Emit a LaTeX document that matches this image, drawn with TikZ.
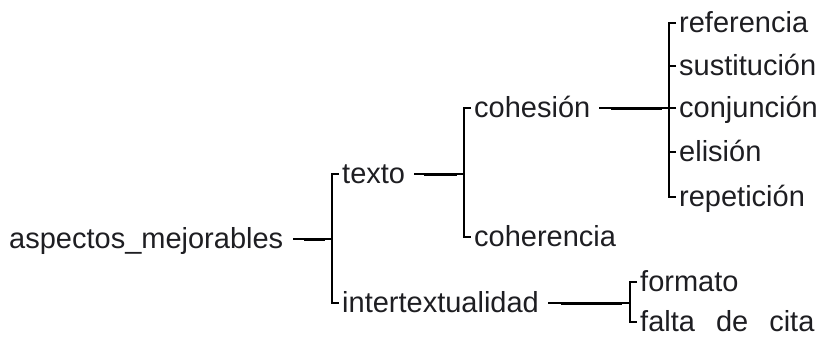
\documentclass[tikz,border=0pt]{standalone}
\usepackage{fontspec}
\setmainfont{Liberation Sans}
\definecolor{txt}{RGB}{30,30,34}
\begin{document}
\begin{tikzpicture}[x=1pt,y=-1pt,
  lbl/.style={font=\fontsize{29}{34}\selectfont, text=txt, inner xsep=3pt, inner ysep=0pt,
              text height=24pt, text depth=6pt, anchor=west},
  ln/.style={line width=1.2pt, draw=black},
  thk/.style={line width=3pt, draw=black}]
\useasboundingbox (0,0) rectangle (817,338);
% nodes
\node[lbl] (am)  at (6,239)   {aspectos\_mejorables};
\node[lbl] (tx)  at (339,174) {texto};
\node[lbl] (it)  at (339,303) {intertextualidad};
\node[lbl] (coh) at (471,108) {cohesión};
\node[lbl] (cor) at (471,237) {coherencia};
\node[lbl] (ref) at (676,23)  {referencia};
\node[lbl] (sus) at (676,66)  {sustitución};
\node[lbl] (con) at (676,108) {conjunción};
\node[lbl] (eli) at (676,152) {elisión};
\node[lbl] (rep) at (676,197) {repetición};
\node[lbl] (fmt) at (637,282) {formato};
\node[lbl] (fal) at (637,322) {falta\hspace{21pt}de\hspace{21pt}cita};
% junctions
\coordinate (j1) at (332,239);
\coordinate (j2) at (464,174);
\coordinate (j3) at (669,108);
\coordinate (j4) at (630,303);
% parent connectors
\draw[ln] ([xshift=7pt]am.east) -- (j1);
\draw[thk] ([xshift=18pt]am.east) -- ([xshift=-7pt]j1);
\draw[ln] ([xshift=6pt]tx.east) -- (j2);
\draw[thk] ([xshift=16pt]tx.east) -- ([xshift=-7pt]j2);
\draw[ln] ([xshift=6pt]coh.east) -- (j3);
\draw[thk] ([xshift=18pt]coh.east) -- ([xshift=-7pt]j3);
\draw[ln] ([xshift=6pt]it.east) -- (j4);
\draw[thk] ([xshift=19pt]it.east) -- ([xshift=-8pt]j4);
% brackets
\draw[ln] (tx.west) -| (j1) |- (it.west);
\draw[ln] (coh.west) -| (j2) |- (cor.west);
\draw[ln] (ref.west) -| (j3) |- (rep.west);
\draw[ln] (sus.west) -- (sus.west -| j3);
\draw[ln] (con.west) -- (j3);
\draw[ln] (eli.west) -- (eli.west -| j3);
\draw[ln] (fmt.west) -| (j4) |- (fal.west);
\end{tikzpicture}
\end{document}
